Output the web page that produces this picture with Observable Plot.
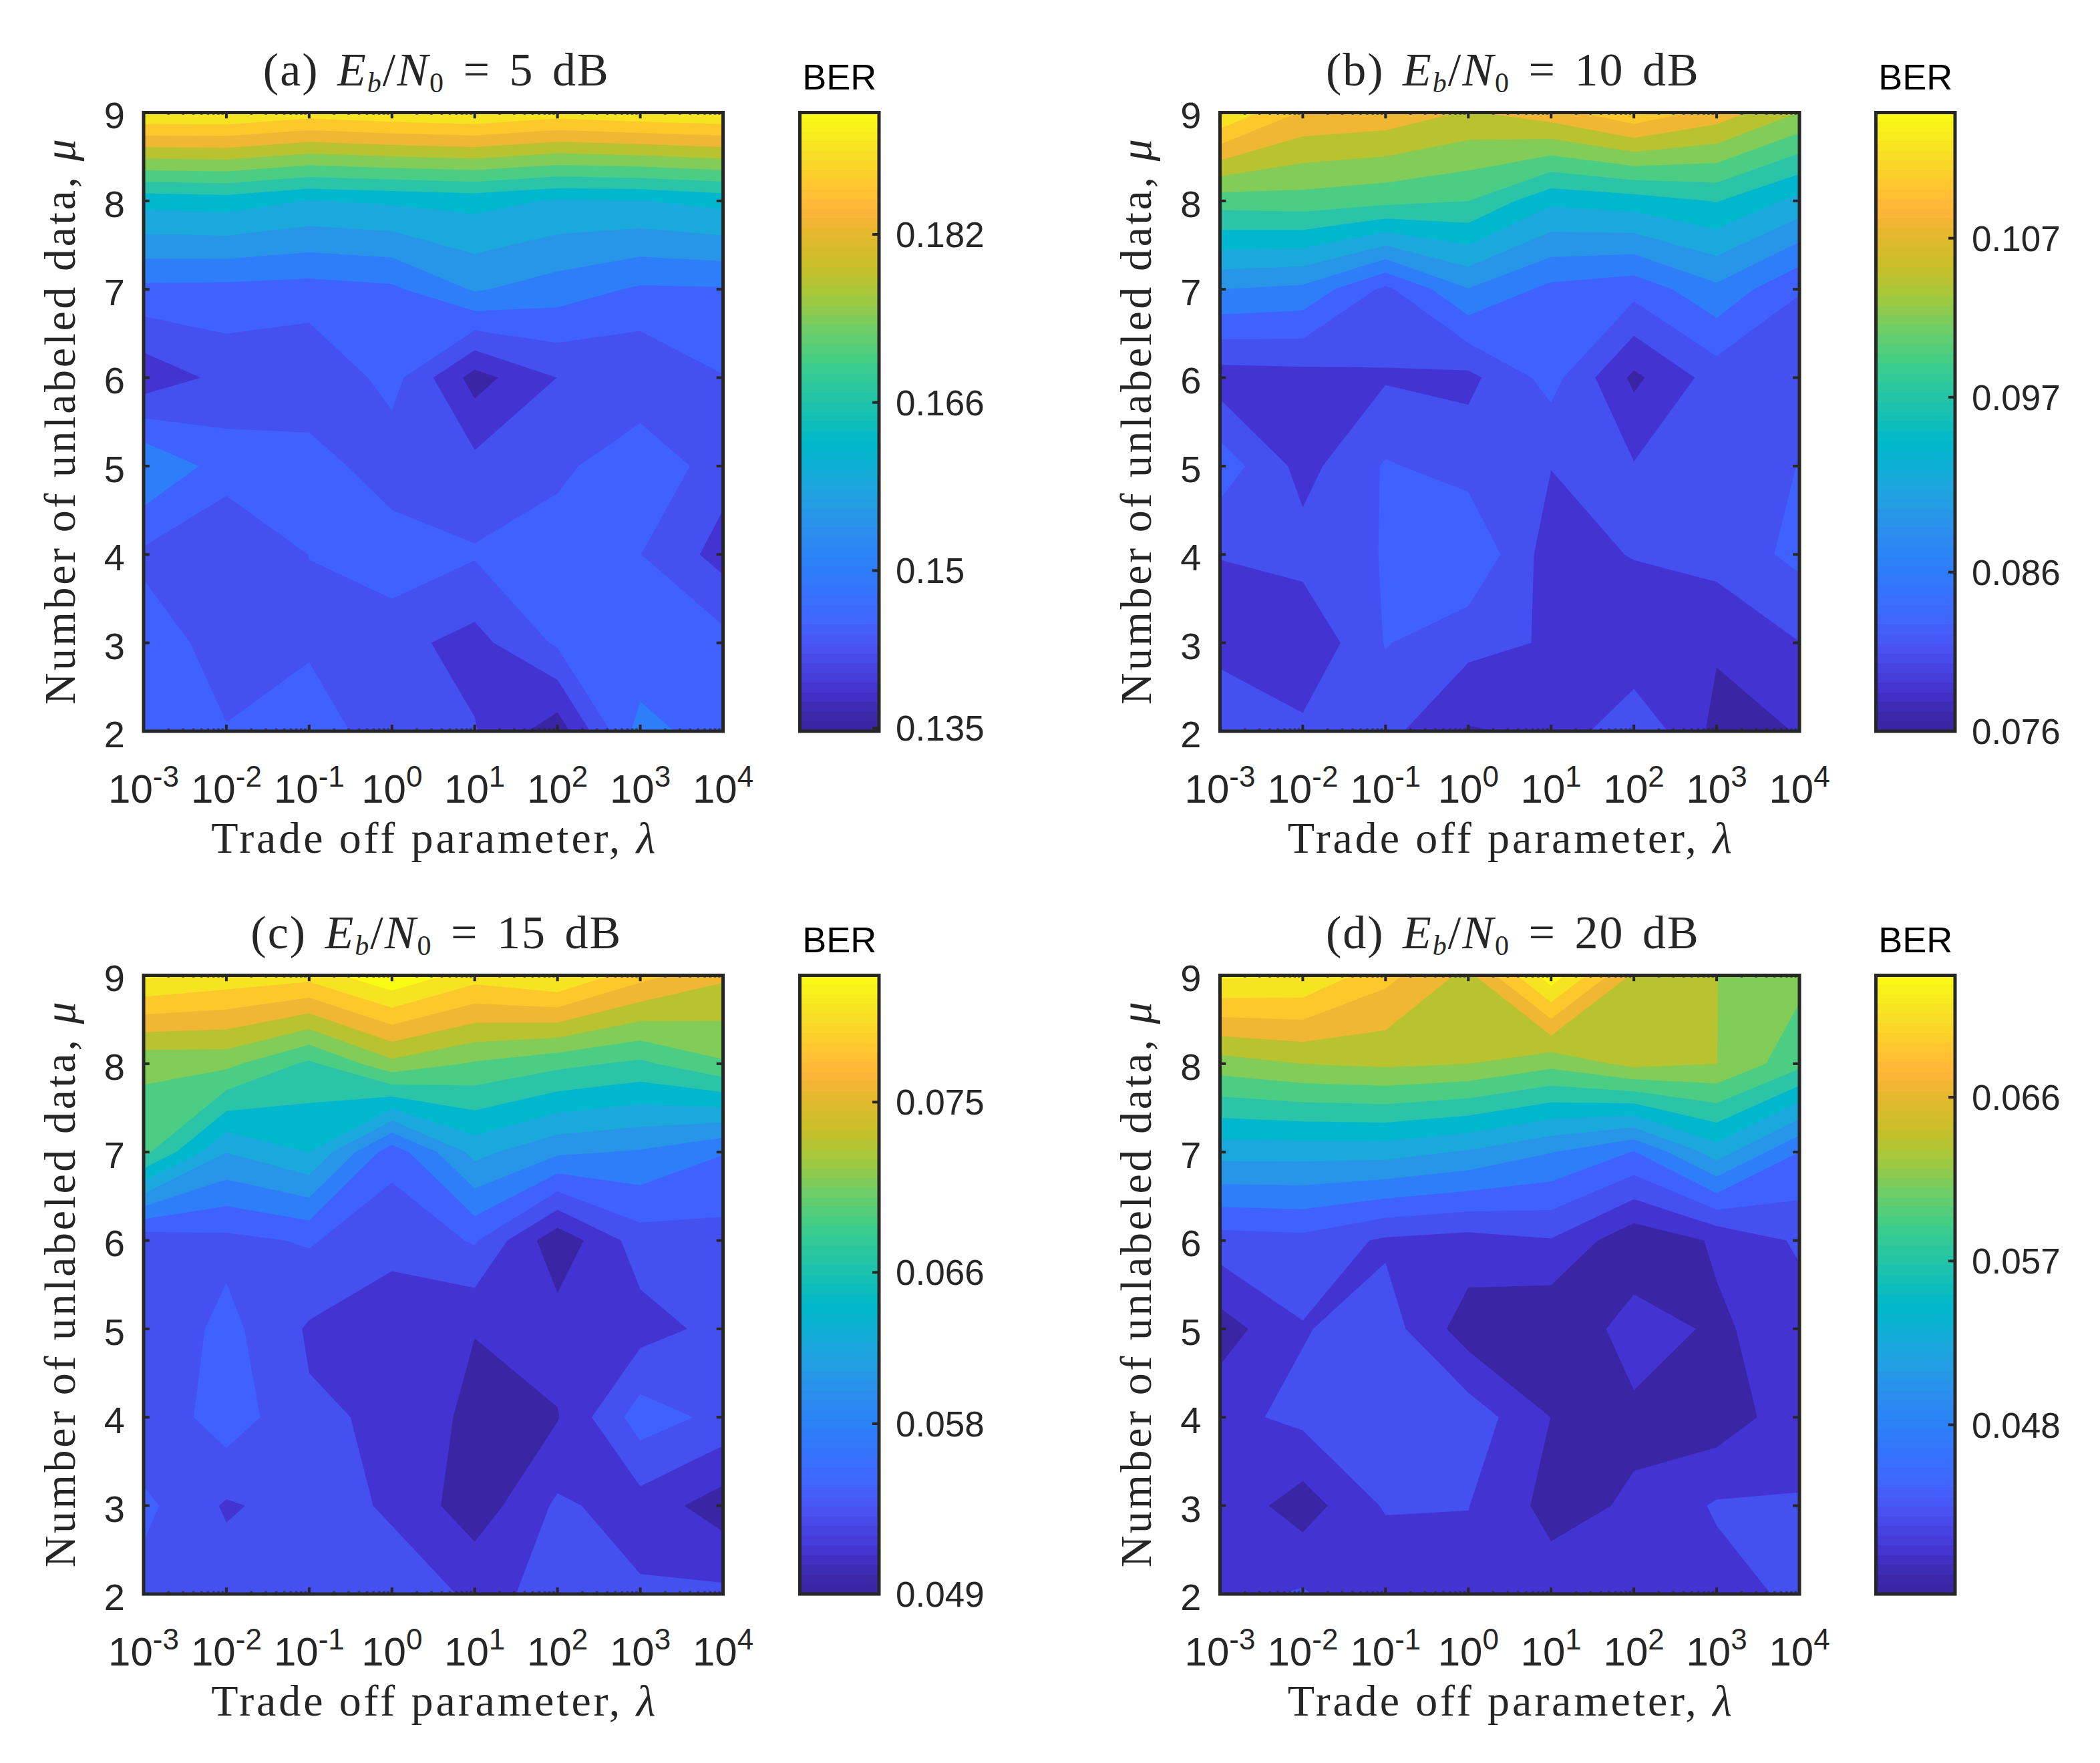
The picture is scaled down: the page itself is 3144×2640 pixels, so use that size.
<!DOCTYPE html>
<html><head><meta charset="utf-8">
<script src="https://cdn.jsdelivr.net/npm/d3@7"></script>
<script src="https://cdn.jsdelivr.net/npm/@observablehq/plot@0.6"></script>
<style>
html,body{margin:0;padding:0;background:#fff}
#page{position:relative;width:3144px;height:2640px;overflow:hidden;background:#fff}
.abs{position:absolute}
.title{position:absolute;font-family:"Liberation Serif",serif;font-size:70px;letter-spacing:2px;color:#262626;text-align:center;white-space:nowrap;line-height:1;word-spacing:8px}
.title sub{font-size:42px;line-height:0;vertical-align:-10px}
</style></head><body><div id="page"></div>
<script>
// Grid axes: lambda exponents (columns) and mu (rows, top to bottom)
const lambdaExp = [-3,-2,-1,0,1,2,3,4];
const muValues = [9,8,7,6,5,4,3,2];

// BER; one row per mu, from mu=9 down to mu=2
const berA = [
 [.1899,.1899,.1881,.1892,.1899,.1881,.1892,.1899],
 [.1617,.1623,.1603,.1610,.1617,.1601,.1603,.1617],
 [.1485,.1483,.1479,.1487,.1535,.1513,.1489,.1491],
 [.1395,.1432,.1422,.1472,.1369,.1421,.1422,.1456],
 [.1531,.1476,.1479,.1432,.1432,.1446,.1491,.1435],
 [.1450,.1421,.1458,.1483,.1461,.1483,.1458,.1406],
 [.1476,.1443,.1448,.1432,.1408,.1463,.1461,.1470],
 [.1479,.1459,.1491,.1422,.1423,.1362,.1511,.1470]];
const berB = [
 [.1125,.1074,.1069,.1050,.1067,.1096,.1067,.1028],
 [.0991,.0994,.0987,.0980,.0937,.0944,.0957,.0924],
 [.0883,.0877,.0829,.0882,.0852,.0843,.0877,.0836],
 [.0798,.0801,.0808,.0804,.0844,.0781,.0821,.0815],
 [.0849,.0802,.0837,.0825,.0811,.0812,.0825,.0835],
 [.0811,.0820,.0836,.0858,.0798,.0812,.0820,.0841],
 [.0801,.0789,.0836,.0818,.0808,.0787,.0789,.0810],
 [.0833,.0816,.0818,.0784,.0791,.0832,.0779,.0787]];
const berC = [
 [.0801,.0791,.0785,.0815,.0786,.0799,.0764,.0740],
 [.0700,.0701,.0671,.0710,.0693,.0681,.0671,.0693],
 [.0681,.0615,.0635,.0562,.0621,.0598,.0592,.0575],
 [.0540,.0548,.0556,.0538,.0556,.0499,.0544,.0546],
 [.0536,.0560,.0531,.0525,.0514,.0523,.0525,.0540],
 [.0535,.0566,.0536,.0531,.0507,.0512,.0564,.0548],
 [.0559,.0531,.0542,.0531,.0501,.0537,.0525,.0503],
 [.0546,.0544,.0546,.0542,.0531,.0536,.0536,.0538]];
const berD = [
 [.0710,.0706,.0670,.0636,.0719,.0638,.0621,.0606],
 [.0611,.0621,.0625,.0621,.0606,.0627,.0621,.0585],
 [.0523,.0523,.0523,.0512,.0494,.0471,.0525,.0472],
 [.0441,.0444,.0426,.0421,.0428,.0393,.0411,.0433],
 [.0398,.0428,.0440,.0397,.0389,.0418,.0405,.0419],
 [.0423,.0435,.0444,.0442,.0408,.0404,.0396,.0421],
 [.0423,.0398,.0432,.0430,.0401,.0411,.0432,.0431],
 [.0423,.0432,.0409,.0421,.0419,.0419,.0421,.0434]];

// Contour levels: lowest level and spacing for each panel
const levelLow = [.1347,.0762,.0493,.0387];
const levelStep = [.00368,.00242,.002025,.002125];
// Fill colour of each contour band, lowest first
const bandColors = ["#3a25a5","#4333d3","#4450ef","#3f62ff","#2e7df9","#2895e8","#1ba8dc","#00b7cd",
  "#2cc4a8","#4ccd84","#82cc57","#b9c22f","#efb734","#fdc82b","#f6e322","#f9fb14"];

// Colour bars
const barDomains = [[.1347,.1936],[.076,.1149],[.049,.0817],[.0387,.0727]];
const barTicks = [[.135,.15,.166,.182],[.076,.086,.097,.107],[.049,.058,.066,.075],[.048,.057,.066]];
const barTickLabels = [["0.135","0.15","0.166","0.182"],["0.076","0.086","0.097","0.107"],["0.049","0.058","0.066","0.075"],["0.048","0.057","0.066"]];
const barStops = [0,.02,.07,.13,.18,.26,.33,.385,.466,.53,.59,.65,.70,.75,.80,.84,.88,.93,1];
const barColors = ["#3a25a5","#3b26a5","#4435d0","#4950f0","#4165ff","#2e7dfa","#2a90ec","#20a3e0","#00b8cb","#1fc3ab","#3ccd8c","#6fcd65","#a1c83e","#c8c029","#e3b82c","#feb53a","#ffc530","#f8de26","#f9fb14"];

// Titles and axis text
const panelLetters = ["(a)","(b)","(c)","(d)"];
const snrLabels = ["5","10","15","20"];
const xLabel = "Trade off parameter, ";
const yLabel = "Number of unlabeled data, ";
const barLabel = "BER";

const dark = "#262626";
const sans = "Liberation Sans";
const serif = "Liberation Serif";
const fw = 867.5, fh = 926.5;          // frame size
const rows = [167.5, 1460];            // frame top of each row
const cols = [214.5, 1826];            // frame left of each column
const barOffset = 982;                 // bar left - frame left
const barW = 118.5;
const page = document.getElementById("page");

const xMinor = [];
for (let e = -3; e < 4; e++) for (let k = 2; k < 10; k++) xMinor.push(e + Math.log10(k));

function place(node, left, top) {
  node.classList.add("abs");
  node.style.left = left + "px";
  node.style.top = top + "px";
  node.style.maxWidth = "none";
  node.style.overflow = "visible";
  node.style.background = "transparent";
  page.appendChild(node);
}

function italicTail(svg, base, tail, length) {
  svg.querySelectorAll("text").forEach(t => {
    if (t.textContent === base + tail) {
      const host = t.querySelector("tspan") || t;
      host.textContent = base;
      const s = document.createElementNS("http://www.w3.org/2000/svg", "tspan");
      s.setAttribute("font-style", "italic");
      s.textContent = tail;
      host.appendChild(s);
      t.setAttribute("textLength", length);
      t.setAttribute("lengthAdjust", "spacing");
    }
  });
}

function panel(i, ber) {
  const r = Math.floor(i / 2), c = i % 2;
  const left = cols[c], top = rows[r];
  const thresholds = bandColors.map((_, k) => levelLow[i] + k * levelStep[i]);
  const mb = 200, ml = left - (c ? 1650 : 0);
  const svg = Plot.plot({
    width: ml + fw + 60, height: 170 + fh + mb,
    marginLeft: ml, marginRight: 60, marginTop: 170, marginBottom: mb,
    x: {domain: [-3, 4], axis: null},
    y: {domain: [2, 9], axis: null},
    color: {type: "linear", domain: thresholds, range: bandColors},
    marks: [
      Plot.contour(ber.flat(), {
        x1: lambdaExp[0] - .5, x2: lambdaExp[7] + .5,
        y1: muValues[0] + .5, y2: muValues[7] - .5,
        width: lambdaExp.length, height: muValues.length,
        fill: Plot.identity, thresholds, clip: true, stroke: "none"
      }),
      Plot.ruleX(xMinor, {y1: 2, y2: 2.03, stroke: dark, strokeWidth: 3.5, strokeOpacity: .6}),
      Plot.ruleX(xMinor, {y1: 9, y2: 8.97, stroke: dark, strokeWidth: 3.5, strokeOpacity: .6}),
      Plot.ruleX(lambdaExp, {y1: 2, y2: 2.07, stroke: dark, strokeWidth: 4}),
      Plot.ruleX(lambdaExp, {y1: 9, y2: 8.93, stroke: dark, strokeWidth: 4}),
      Plot.ruleY(muValues, {x1: -3, x2: -2.925, stroke: dark, strokeWidth: 4}),
      Plot.ruleY(muValues, {x1: 4, x2: 3.925, stroke: dark, strokeWidth: 4}),
      Plot.frame({stroke: dark, strokeWidth: 5}),
      Plot.axisX(lambdaExp, {anchor: "bottom", tickSize: 0, tickPadding: 64, fontSize: 60, fontFamily: sans, color: dark, label: null, tickFormat: d => "" + d}),
      Plot.axisY(muValues, {anchor: "left", tickSize: 0, tickPadding: 28, fontSize: 56, fontFamily: sans, color: dark, label: null, dy: 6, tickFormat: d => "" + d}),
      Plot.text([xLabel + "λ"], {text: d => d, frameAnchor: "bottom", dy: 182, fontSize: 66, fontFamily: serif, fill: dark}),
      Plot.text([yLabel + "μ"], {text: d => d, frameAnchor: "left", textAnchor: "middle", rotate: -90, dx: -124.5, fontSize: 66, fontFamily: serif, fill: dark})
    ]
  });
  // exponents as superscripts on the log-axis labels
  svg.querySelectorAll('[aria-label="x-axis tick label"] text').forEach(t => {
    const e = t.textContent;
    t.textContent = "";
    const ns = "http://www.w3.org/2000/svg";
    const b = document.createElementNS(ns, "tspan"); b.textContent = "10";
    const s = document.createElementNS(ns, "tspan"); s.textContent = e;
    s.setAttribute("font-size", "44"); s.setAttribute("dy", "-24");
    t.appendChild(b); t.appendChild(s);
  });
  italicTail(svg, xLabel, "λ", 665);
  italicTail(svg, yLabel, "μ", 847);
  place(svg, c ? 1650 : 0, top - 170);

  // title
  const tt = document.createElement("div");
  tt.className = "title";
  tt.style.left = left + "px";
  tt.style.width = (fw + 10) + "px";
  tt.style.top = (top - 98) + "px";
  tt.innerHTML = `${panelLetters[i]} <i>E</i><sub><i>b</i></sub>/<i>N</i><sub>0</sub> = ${snrLabels[i]} dB`;
  page.appendChild(tt);

  // colour bar
  const [b0, b1] = barDomains[i];
  const barSteps = d3.range(64);
  const bar = Plot.plot({
    width: barW + 260, height: 170 + fh + 60,
    marginLeft: 10, marginRight: 250, marginTop: 170, marginBottom: 60,
    x: {domain: [0, 1], axis: null},
    y: {domain: [b0, b1], axis: null},
    color: {type: "linear", domain: barStops, range: barColors},
    marks: [
      Plot.rect(barSteps, {
        x1: 0, x2: 1,
        y1: s => b0 + (b1 - b0) * s / 64, y2: s => b0 + (b1 - b0) * (s + 1) / 64,
        fill: s => (s + .5) / 64, shapeRendering: "crispEdges"
      }),
      Plot.ruleY(barTicks[i], {x1: 1, x2: .92, stroke: dark, strokeWidth: 4}),
      Plot.frame({stroke: dark, strokeWidth: 5}),
      Plot.axisY(barTicks[i], {anchor: "right", tickSize: 0, tickPadding: 25, fontSize: 53, fontFamily: sans, color: dark, label: null, dy: 2, tickFormat: d => barTickLabels[i][barTicks[i].indexOf(d)]}),
      Plot.text([barLabel], {text: d => d, frameAnchor: "top", dy: -73, fontSize: 54, fontFamily: sans, fill: "#000"})
    ]
  });
  place(bar, left + barOffset - 10, top - 170);
}

[berA, berB, berC, berD].forEach((b, i) => panel(i, b));
</script></body></html>
